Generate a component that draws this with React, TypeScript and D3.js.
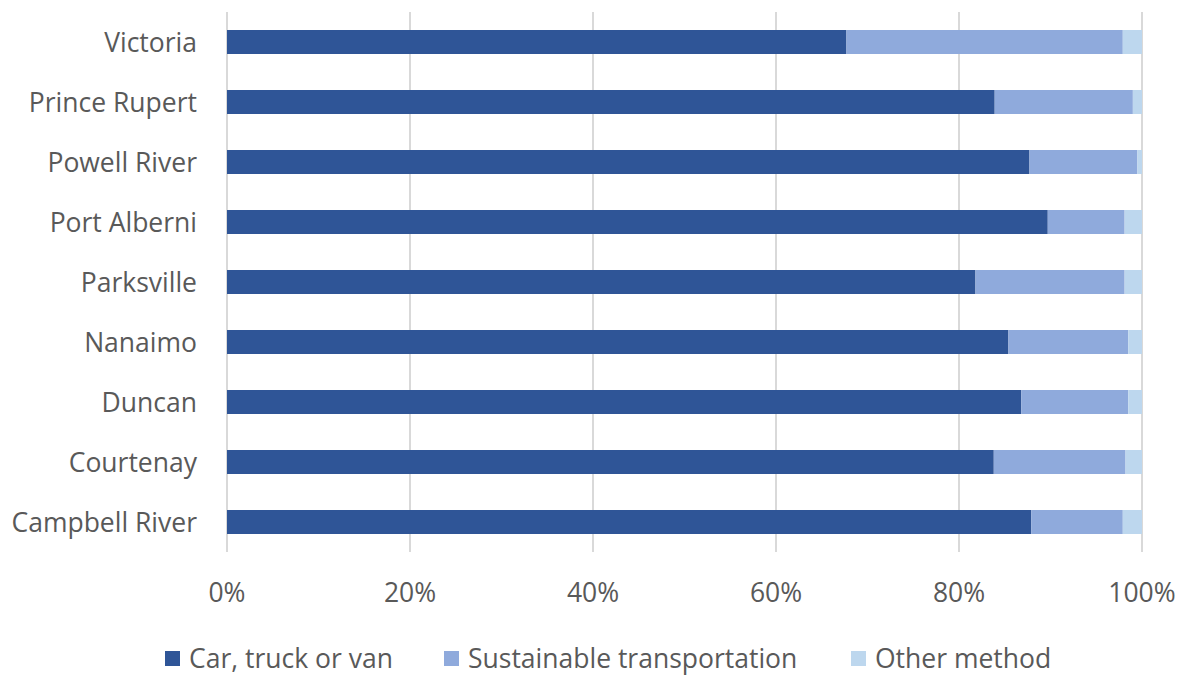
import React from "react";
import * as d3 from "d3";

const categories = ["Victoria", "Prince Rupert", "Powell River", "Port Alberni", "Parksville", "Nanaimo", "Duncan", "Courtenay", "Campbell River"];
const carTruckVan = [67.7, 83.9, 87.7, 89.7, 81.8, 85.4, 86.8, 83.8, 87.9];
const sustainable = [30.2, 15.1, 11.8, 8.4, 16.3, 13.1, 11.7, 14.4, 10.0];
const otherMethod = [2.1, 1.0, 0.5, 1.9, 1.9, 1.5, 1.5, 1.8, 2.1];
const seriesNames = ["Car, truck or van", "Sustainable transportation", "Other method"];
const seriesColors = ["#2f5597", "#8faadc", "#bdd7ee"];
const xTicks = [0, 20, 40, 60, 80, 100];

const W = 1183, H = 675;
const FONT = "'Open Sans', sans-serif";
const TEXT = "#595959";
const FS = 26.5;

export default function App() {
  const x = d3.scaleLinear().domain([0, 100]).range([227, 1142]);
  const y = d3.scaleBand<string>().domain(categories).range([12, 552]).paddingInner(0.6).paddingOuter(0.3);
  const rows = categories.map((c, i) => ({ cat: c, car: carTruckVan[i], sus: sustainable[i], oth: otherMethod[i] }));
  const stack = d3.stack<any>().keys(["car", "sus", "oth"])(rows);

  const legendX = [165, 444, 851];

  return (
    <svg width={W} height={H} style={{ position: "absolute", left: 0, top: 0, background: "#fff" }} fontFamily={FONT}>
      {xTicks.map((t) => (
        <line key={t} x1={x(t)} x2={x(t)} y1={12} y2={552} stroke="#d9d9d9" strokeWidth={2} />
      ))}
      {stack.map((s, si) => (
        <g key={si} fill={seriesColors[si]}>
          {s.map((d, i) => (
            <rect key={i} x={x(d[0])} y={y(categories[i])} width={x(d[1]) - x(d[0])} height={y.bandwidth()} />
          ))}
        </g>
      ))}
      {categories.map((c) => (
        <text key={c} x={197} y={(y(c) as number) + y.bandwidth() / 2} textAnchor="end" dominantBaseline="central" fontSize={FS} fill={TEXT}>
          {c}
        </text>
      ))}
      {xTicks.map((t) => (
        <text key={t} x={x(t)} y={592} textAnchor="middle" dominantBaseline="central" fontSize={FS} fill={TEXT}>
          {t}%
        </text>
      ))}
      {seriesNames.map((n, i) => (
        <g key={n}>
          <rect x={legendX[i]} y={651} width={15} height={15} fill={seriesColors[i]} />
          <text x={legendX[i] + 24} y={658} dominantBaseline="central" fontSize={FS} fill={TEXT}>
            {n}
          </text>
        </g>
      ))}
    </svg>
  );
}
